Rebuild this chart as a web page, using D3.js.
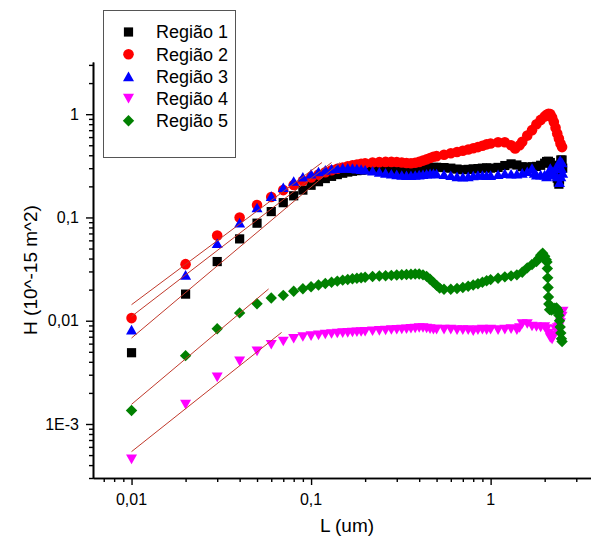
<!DOCTYPE html>
<html><head><meta charset="utf-8">
<script src="https://cdn.jsdelivr.net/npm/d3@7"></script>
<style>
body{margin:0;background:#fff}
svg{display:block}
text{font-family:"Liberation Sans",Arial,Helvetica,sans-serif;fill:#000}
</style>
</head><body>
<svg id="chart" width="592" height="543"></svg>
<script>
// ---------------- data ----------------
const seriesNames = ["Região 1", "Região 2", "Região 3", "Região 4", "Região 5"];
const seriesColors = ["#000000", "#ff0000", "#0000ff", "#ff00ff", "#008000"];
const seriesShapes = ["square", "circle", "triangleUp", "triangleDown", "diamond"];

const region1 = [[0.01,0.0049],[0.02,0.0181],[0.03,0.0374],[0.04,0.062],[0.05,0.088],[0.06,0.114],[0.07,0.139],[0.08,0.162],[0.09,0.184],[0.10,0.205],[0.11,0.222],[0.12,0.238],[0.13,0.25],[0.14,0.26],[0.15,0.268],[0.16,0.275],[0.17,0.28],[0.18,0.284],[0.19,0.287],[0.20,0.289],[0.22,0.29],[0.24,0.289],[0.26,0.287],[0.28,0.286],[0.30,0.285],[0.32,0.284],[0.34,0.285],[0.36,0.287],[0.38,0.29],[0.40,0.293],[0.42,0.297],[0.44,0.30],[0.46,0.303],[0.48,0.305],[0.50,0.306],[0.55,0.304],[0.60,0.30],[0.65,0.294],[0.70,0.29],[0.75,0.292],[0.80,0.295],[0.85,0.297],[0.90,0.30],[0.95,0.302],[1.0,0.30],[1.1,0.305],[1.2,0.318],[1.3,0.33],[1.4,0.322],[1.5,0.31],[1.6,0.305],[1.7,0.31],[1.8,0.312],[1.9,0.32],[2.0,0.335],[2.05,0.348],[2.1,0.35],[2.15,0.34],[2.2,0.32],[2.25,0.30],[2.3,0.27],[2.35,0.24],[2.38,0.22],[2.4,0.21],[2.42,0.23],[2.44,0.3],[2.46,0.36],[2.48,0.33],[2.5,0.36],[2.52,0.3]];

const region2 = [[0.01,0.0106],[0.02,0.0353],[0.03,0.0667],[0.04,0.100],[0.05,0.132],[0.06,0.158],[0.07,0.184],[0.08,0.206],[0.09,0.226],[0.10,0.244],[0.11,0.26],[0.12,0.274],[0.13,0.286],[0.14,0.296],[0.15,0.305],[0.16,0.313],[0.17,0.32],[0.18,0.326],[0.19,0.331],[0.20,0.335],[0.22,0.34],[0.24,0.343],[0.26,0.345],[0.28,0.345],[0.30,0.344],[0.32,0.341],[0.34,0.337],[0.36,0.335],[0.38,0.338],[0.40,0.345],[0.42,0.355],[0.44,0.365],[0.46,0.376],[0.48,0.387],[0.50,0.392],[0.55,0.405],[0.60,0.418],[0.65,0.43],[0.70,0.442],[0.75,0.455],[0.80,0.468],[0.85,0.48],[0.90,0.495],[0.95,0.51],[1.0,0.52],[1.1,0.535],[1.2,0.535],[1.3,0.5],[1.37,0.466],[1.45,0.5],[1.5,0.54],[1.6,0.62],[1.7,0.7],[1.8,0.8],[1.9,0.88],[2.0,0.95],[2.05,0.985],[2.1,1.01],[2.15,1.0],[2.2,0.93],[2.25,0.84],[2.3,0.74],[2.35,0.65],[2.4,0.58],[2.45,0.52],[2.5,0.48]];

const region3 = [[0.01,0.0082],[0.02,0.0278],[0.03,0.0563],[0.04,0.0891],[0.05,0.125],[0.06,0.161],[0.07,0.196],[0.08,0.225],[0.09,0.248],[0.10,0.265],[0.11,0.279],[0.12,0.289],[0.13,0.296],[0.14,0.30],[0.15,0.302],[0.16,0.302],[0.17,0.30],[0.18,0.297],[0.19,0.294],[0.20,0.29],[0.22,0.283],[0.24,0.276],[0.26,0.27],[0.28,0.265],[0.30,0.261],[0.32,0.258],[0.34,0.256],[0.36,0.256],[0.38,0.258],[0.40,0.26],[0.42,0.262],[0.44,0.265],[0.46,0.267],[0.48,0.267],[0.50,0.266],[0.55,0.262],[0.60,0.256],[0.65,0.25],[0.70,0.248],[0.75,0.25],[0.80,0.255],[0.85,0.258],[0.90,0.258],[0.95,0.256],[1.0,0.257],[1.1,0.262],[1.2,0.268],[1.3,0.265],[1.4,0.265],[1.5,0.27],[1.6,0.28],[1.7,0.30],[1.75,0.27],[1.8,0.26],[1.9,0.26],[2.0,0.26],[2.05,0.25],[2.1,0.27],[2.15,0.30],[2.2,0.28],[2.25,0.26],[2.3,0.30],[2.35,0.25],[2.4,0.33],[2.42,0.22],[2.44,0.36],[2.46,0.25],[2.48,0.30],[2.5,0.34],[2.52,0.27]];

const region4 = [[0.01,0.000454],[0.02,0.00154],[0.03,0.00283],[0.04,0.00404],[0.05,0.00505],[0.06,0.00586],[0.07,0.0063],[0.08,0.0067],[0.09,0.00695],[0.10,0.0071],[0.11,0.00722],[0.12,0.00735],[0.13,0.00745],[0.14,0.00752],[0.15,0.00758],[0.16,0.00763],[0.17,0.00768],[0.18,0.00773],[0.19,0.00778],[0.20,0.00783],[0.22,0.0079],[0.24,0.00798],[0.26,0.00805],[0.28,0.00812],[0.30,0.00818],[0.32,0.00823],[0.34,0.00828],[0.36,0.00835],[0.38,0.0084],[0.40,0.0085],[0.42,0.0085],[0.44,0.0084],[0.46,0.0083],[0.48,0.0082],[0.50,0.0082],[0.55,0.0082],[0.60,0.0082],[0.65,0.0081],[0.70,0.0081],[0.75,0.0081],[0.80,0.0079],[0.85,0.0081],[0.90,0.0082],[0.95,0.0081],[1.0,0.0082],[1.1,0.0081],[1.2,0.0082],[1.3,0.0083],[1.4,0.0081],[1.45,0.0085],[1.5,0.0093],[1.6,0.0093],[1.7,0.0088],[1.8,0.0087],[1.9,0.0086],[2.0,0.0087],[2.05,0.0083],[2.1,0.0075],[2.15,0.0068],[2.2,0.0066],[2.25,0.0072],[2.3,0.0082],[2.35,0.0085],[2.4,0.0087],[2.45,0.0095],[2.5,0.011],[2.53,0.0123]];

const region5 = [[0.01,0.00135],[0.02,0.00459],[0.03,0.00837],[0.04,0.0119],[0.05,0.0146],[0.06,0.0166],[0.07,0.0176],[0.08,0.0193],[0.09,0.0204],[0.10,0.0213],[0.11,0.0222],[0.12,0.0229],[0.13,0.0236],[0.14,0.0242],[0.15,0.0247],[0.16,0.0251],[0.17,0.0255],[0.18,0.0258],[0.19,0.0261],[0.20,0.0264],[0.22,0.0268],[0.24,0.0271],[0.26,0.0273],[0.28,0.0275],[0.30,0.0277],[0.32,0.0279],[0.34,0.028],[0.36,0.0282],[0.38,0.0283],[0.40,0.0283],[0.42,0.0278],[0.44,0.0269],[0.46,0.0252],[0.48,0.0235],[0.50,0.022],[0.52,0.0207],[0.55,0.0202],[0.60,0.0202],[0.65,0.0205],[0.70,0.021],[0.75,0.0216],[0.80,0.0222],[0.85,0.0228],[0.90,0.0236],[0.95,0.0244],[1.0,0.025],[1.1,0.0258],[1.2,0.0266],[1.3,0.0272],[1.4,0.0278],[1.5,0.0295],[1.6,0.0325],[1.7,0.035],[1.8,0.0374],[1.85,0.040],[1.9,0.043],[1.95,0.045],[2.0,0.042],[2.04,0.039],[2.06,0.037],[2.07,0.032],[2.08,0.026],[2.09,0.021],[2.10,0.017],[2.11,0.0145],[2.13,0.0128],[2.18,0.0127],[2.23,0.0129],[2.28,0.0132],[2.33,0.0133],[2.36,0.0127],[2.38,0.0122],[2.40,0.0113],[2.42,0.0100],[2.44,0.0087],[2.46,0.0076],[2.48,0.0067],[2.50,0.0063]];

// linear fits (end points)
const fitStartL = [0.01, 0.01, 0.01, 0.01, 0.01];
const fitEndL   = [0.145, 0.115, 0.13, 0.0685, 0.058];
const fitStartH = [0.0068, 0.0143, 0.011, 0.00054, 0.00155];
const fitEndH   = [0.34, 0.34, 0.34, 0.0077, 0.0203];

const xTickValues = [0.01, 0.1, 1];
const xTickLabels = ["0,01", "0,1", "1"];
const yTickValues = [0.001, 0.01, 0.1, 1];
const yTickLabels = ["1E-3", "0,01", "0,1", "1"];
const xTitle = "L (um)";
const yTitle = "H (10^-15 m^2)";

const allSeries = [region1, region2, region3, region4, region5];

// ---------------- layout ----------------
const svg = d3.select("#chart");
const plotLeft = 93, plotRight = 590.5, plotTop = 62, plotBottom = 478;

const x = d3.scaleLog().domain([0.0061, 3.6]).range([plotLeft, plotRight]);
const y = d3.scaleLog().domain([3.0e-4, 3.2]).range([plotBottom, plotTop]);

function minorTicks(scale) {
  const [a, b] = scale.domain();
  const out = [];
  for (let e = -5; e <= 2; e++) {
    for (let k = 2; k <= 9; k++) {
      const v = k * Math.pow(10, e);
      if (v >= a && v <= b) out.push(v);
    }
  }
  return out;
}

// symbols
function symbolPath(shape) {
  switch (shape) {
    case "square": { const h = 4.6; return `M${-h},${-h}H${h}V${h}H${-h}Z`; }
    case "circle": { const r = 5.3; return `M${r},0A${r},${r} 0 1,1 ${-r},0A${r},${r} 0 1,1 ${r},0Z`; }
    case "triangleUp": { const s = 5.5, h = 4.8; return `M0,${-h}L${s},${h}L${-s},${h}Z`; }
    case "triangleDown": { const s = 5.5, h = 4.8; return `M0,${h}L${s},${-h}L${-s},${-h}Z`; }
    case "diamond": { const r = 5.7; return `M0,${-r}L${r},0L0,${r}L${-r},0Z`; }
  }
}

// ---------------- data marks ----------------
const plot = svg.append("g");
allSeries.forEach((data, i) => {
  plot.append("g").selectAll("path")
    .data(data)
    .join("path")
    .attr("d", symbolPath(seriesShapes[i]))
    .attr("transform", d => `translate(${x(d[0])},${y(d[1])})`)
    .attr("fill", seriesColors[i]);
});

// fit lines
const fitG = svg.append("g");
fitStartL.forEach((l0, i) => {
  fitG.append("line")
    .attr("x1", x(l0)).attr("y1", y(fitStartH[i]))
    .attr("x2", x(fitEndL[i])).attr("y2", y(fitEndH[i]))
    .attr("stroke", "#c0392b").attr("stroke-width", 1);
});

// ---------------- axes ----------------
const xAxisG = svg.append("g").attr("transform", `translate(0,${plotBottom})`);
xAxisG.call(d3.axisBottom(x).tickValues(xTickValues).tickFormat("").tickSize(7).tickSizeOuter(0));
const xMinorG = svg.append("g").attr("transform", `translate(0,${plotBottom})`);
xMinorG.call(d3.axisBottom(x).tickValues(minorTicks(x)).tickFormat("").tickSize(4).tickSizeOuter(0));

const yAxisG = svg.append("g").attr("transform", `translate(${plotLeft},0)`);
yAxisG.call(d3.axisLeft(y).tickValues(yTickValues).tickFormat("").tickSize(7).tickSizeOuter(0));
const yMinorG = svg.append("g").attr("transform", `translate(${plotLeft},0)`);
yMinorG.call(d3.axisLeft(y).tickValues(minorTicks(y)).tickFormat("").tickSize(4).tickSizeOuter(0));

svg.selectAll(".domain").attr("stroke", "#000").attr("stroke-width", 1.6);
svg.selectAll(".tick line").attr("stroke", "#000").attr("stroke-width", 1.4);

// tick labels
svg.append("g").selectAll("text")
  .data(xTickValues)
  .join("text")
  .attr("x", d => x(d))
  .attr("y", 505)
  .attr("text-anchor", "middle")
  .attr("font-size", 16)
  .text((d, i) => xTickLabels[i]);

svg.append("g").selectAll("text")
  .data(yTickValues)
  .join("text")
  .attr("x", 79)
  .attr("y", d => y(d))
  .attr("dy", "0.35em")
  .attr("text-anchor", "end")
  .attr("font-size", 16)
  .text((d, i) => yTickLabels[i]);

// axis titles
svg.append("text")
  .attr("x", 347).attr("y", 532)
  .attr("text-anchor", "middle")
  .attr("font-size", 19)
  .text(xTitle);

svg.append("text")
  .attr("transform", `translate(37,270) rotate(-90)`)
  .attr("text-anchor", "middle")
  .attr("font-size", 19)
  .text(yTitle);

// ---------------- legend ----------------
const legend = svg.append("g");
legend.append("rect")
  .attr("x", 103.5).attr("y", 10.5).attr("width", 132).attr("height", 147)
  .attr("fill", "#fff").attr("stroke", "#555").attr("stroke-width", 1);
seriesNames.forEach((name, i) => {
  const cy = 32 + i * 22.2;
  legend.append("path")
    .attr("d", symbolPath(seriesShapes[i]))
    .attr("transform", `translate(128.5,${cy})`)
    .attr("fill", seriesColors[i]);
  legend.append("text")
    .attr("x", 156).attr("y", cy).attr("dy", "0.36em")
    .attr("font-size", 18)
    .text(name);
});
</script>
</body></html>
